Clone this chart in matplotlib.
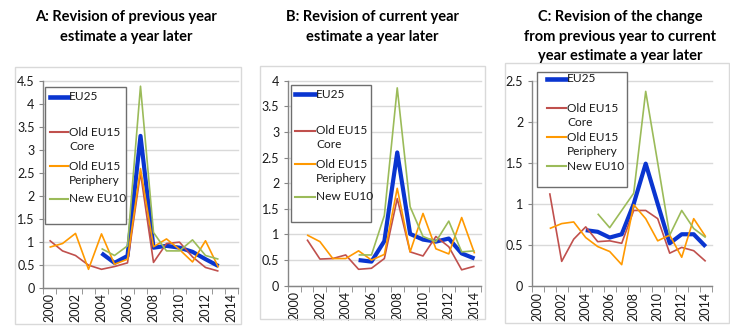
import numpy as np
import matplotlib
matplotlib.use("Agg")
import matplotlib.pyplot as plt
from matplotlib.lines import Line2D
from matplotlib.patches import Rectangle
from matplotlib.ticker import FixedLocator, FuncFormatter

plt.rcParams['font.family'] = ['Lato', 'DejaVu Sans']

# ---- data -------------------------------------------------------------
years_a = list(range(2000, 2014))
years_bc = list(range(2001, 2015))

# A: revision of previous year estimate a year later (2000-2013)
a_eu25 = [None, None, None, None, 0.75, 0.54, 0.69, 3.30, 0.87, 0.91, 0.87, 0.78, 0.62, 0.47]
a_core = [1.03, 0.80, 0.70, 0.49, 0.40, 0.46, 0.54, 2.50, 0.55, 0.96, 0.99, 0.67, 0.44, 0.36]
a_peri = [0.88, 0.96, 1.18, 0.40, 1.17, 0.51, 0.62, 2.59, 0.89, 1.06, 0.83, 0.56, 1.02, 0.44]
a_new10 = [None, None, None, None, 0.85, 0.70, 0.91, 4.38, 1.20, 0.80, 0.80, 1.04, 0.70, 0.62]

# B: revision of current year estimate a year later (2001-2014)
b_eu25 = [None, None, None, None, 0.50, 0.47, 0.87, 2.60, 1.01, 0.90, 0.86, 0.92, 0.63, 0.53]
b_core = [0.90, 0.52, 0.53, 0.60, 0.32, 0.34, 0.53, 1.70, 0.66, 0.58, 0.96, 0.76, 0.31, 0.38]
b_peri = [0.99, 0.86, 0.53, 0.53, 0.68, 0.50, 0.61, 1.90, 0.66, 1.41, 0.72, 0.62, 1.33, 0.63]
b_new10 = [None, None, None, None, 0.60, 0.60, 1.37, 3.86, 1.54, 0.96, 0.86, 1.26, 0.66, 0.68]

# C: revision of the change from previous year to current year estimate (2001-2014)
c_eu25 = [None, None, None, 0.68, 0.66, 0.59, 0.63, 1.00, 1.49, 1.00, 0.52, 0.63, 0.63, 0.48]
c_core = [1.13, 0.30, 0.57, 0.72, 0.54, 0.55, 0.52, 0.92, 0.92, 0.82, 0.40, 0.47, 0.43, 0.30]
c_peri = [0.70, 0.76, 0.78, 0.59, 0.48, 0.42, 0.26, 0.99, 0.82, 0.55, 0.62, 0.35, 0.82, 0.60]
c_new10 = [None, None, None, None, 0.88, 0.71, 0.92, 1.13, 2.37, 1.50, 0.62, 0.92, 0.70, 0.59]

series_names = ["EU25", "Old EU15\nCore", "Old EU15\nPeriphery", "New EU10"]
series_colors = ["#0A35D0", "#C0504D", "#FF9900", "#9BBB59"]
series_widths = [3.0, 1.2, 1.2, 1.2]

titles = [
    "A: Revision of previous year\nestimate a year later",
    "B: Revision of current year\nestimate a year later",
    "C: Revision of the change\nfrom previous year to current\nyear estimate a year later",
]
y_tops = [4.5, 4.0, 2.5]

# ---- layout (pixels) --------------------------------------------------
W, H = 730, 334
fig = plt.figure(figsize=(W / 100, H / 100), dpi=100)


def fx(x):
    return x / W


def fy(y):
    return 1 - y / H


panels = [
    dict(years=years_a, data=[a_eu25, a_core, a_peri, a_new10],
         plot=(43, 80.7, 238, 287.7), frame=(15, 67, 241, 324),
         title_x=126, legend=(45, 86.7, 126, 224), leg_line=(50, 68),
         leg_rows=[97, 132, 166, 199], leg_gap=14),
    dict(years=years_bc, data=[b_eu25, b_core, b_peri, b_new10],
         plot=(287.7, 80.7, 481, 285.7), frame=(260, 66, 485, 319),
         title_x=372, legend=(291, 85, 371, 222), leg_line=(295, 315),
         leg_rows=[94, 131, 164, 197], leg_gap=14),
    dict(years=years_bc, data=[c_eu25, c_core, c_peri, c_new10],
         plot=(531.7, 80.7, 711.7, 286), frame=(505, 63, 729, 323),
         title_x=620, legend=(537, 72, 627, 187), leg_line=(547, 566),
         leg_rows=[79, 108, 137, 166], leg_gap=14.5),
]

grid_c = "#D9D9D9"
axis_c = "#868686"
tick_fs = 9
legend_fs = 8.6
text_c = "#1A1A1A"

for p, title, ytop in zip(panels, titles, y_tops):
    # chart-area border
    x0, y0, x1, y1 = p["frame"]
    fig.patches.append(Rectangle((fx(x0), fy(y1)), fx(x1 - x0), (y1 - y0) / H,
                                 transform=fig.transFigure, fill=False,
                                 edgecolor=grid_c, lw=1.0))

    # title
    for i, line in enumerate(title.split("\n")):
        fig.text(fx(p["title_x"]), fy(17 + 19.5 * i), line, ha="center", va="center",
                 fontsize=10.5, fontweight="bold", color="black")

    l, t, r, b = p["plot"]
    ax = fig.add_axes([fx(l), fy(b), fx(r - l), (b - t) / H])
    ax.set_facecolor("none")

    for vals, name, col, lw in zip(p["data"], series_names, series_colors, series_widths):
        y = np.array([np.nan if v is None else v for v in vals], dtype=float)
        ax.plot(p["years"], y, color=col, lw=lw, solid_joinstyle="round",
                solid_capstyle="butt", clip_on=False)

    ax.set_xlim(1999.5, 2014.5)
    ax.set_ylim(0, ytop)
    ax.set_yticks(np.arange(0, ytop + 0.01, 0.5))
    ax.yaxis.set_major_formatter(FuncFormatter(lambda v, _: f"{v:g}"))
    ax.grid(axis="y", color=grid_c, lw=1.0)
    for gl in ax.get_ygridlines():
        gl.set_clip_on(False)
    ax.set_axisbelow(True)

    ax.xaxis.set_major_locator(FixedLocator(list(range(2000, 2015, 2))))
    ax.xaxis.set_minor_locator(FixedLocator(list(np.arange(1999.5, 2015, 1.0))))
    ax.tick_params(axis="x", which="major", length=0, labelrotation=90,
                   labelsize=tick_fs, pad=4, labelcolor=text_c)
    ax.tick_params(axis="x", which="minor", length=4, color=axis_c, direction="out")
    ax.tick_params(axis="y", length=3, color=axis_c, direction="out",
                   labelsize=tick_fs, pad=3, labelcolor=text_c)

    for s in ("top", "right"):
        ax.spines[s].set_visible(False)
    for s in ("left", "bottom"):
        ax.spines[s].set_color(axis_c)
        ax.spines[s].set_linewidth(1.0)

    # legend box with markers aligned to the first text line
    lx0, ly0, lx1, ly1 = p["legend"]
    fig.patches.append(Rectangle((fx(lx0), fy(ly1)), fx(lx1 - lx0), (ly1 - ly0) / H,
                                 transform=fig.transFigure, facecolor="white",
                                 edgecolor="#6E6E6E", lw=1.0, zorder=5))
    hx0, hx1 = p["leg_line"]
    for name, col, lw, row in zip(series_names, series_colors, series_widths, p["leg_rows"]):
        fig.lines.append(Line2D([fx(hx0), fx(hx1)], [fy(row), fy(row)],
                                transform=fig.transFigure, color=col, lw=lw + 0.3, zorder=6))
        for k, part in enumerate(name.split("\n")):
            fig.text(fx(hx1 + 1), fy(row + p["leg_gap"] * k), part, ha="left",
                     va="center", fontsize=legend_fs, color=text_c, zorder=6)

fig.savefig("out.png", dpi=100)
